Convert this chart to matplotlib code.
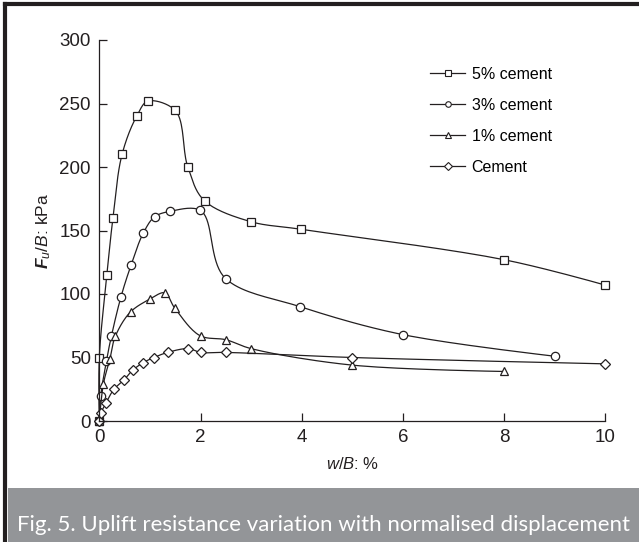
"""
Uplift resistance vs normalised displacement
"""

import numpy as np
import matplotlib
matplotlib.use("Agg")
import matplotlib.pyplot as plt
from matplotlib.patches import Rectangle
from matplotlib.lines import Line2D

plt.rcParams["font.family"] = ["Liberation Sans", "DejaVu Sans"]
plt.rcParams["mathtext.fontset"] = "custom"
plt.rcParams["mathtext.rm"] = "Liberation Sans"
plt.rcParams["mathtext.it"] = "Liberation Sans:italic"
plt.rcParams["mathtext.bf"] = "Liberation Sans:bold"
plt.rcParams["mathtext.bfit"] = "Liberation Sans:italic:bold"

# w/B (%) and Fu/B (kPa)
x_5 = [0, 0, 0.15, 0.27, 0.45, 0.74, 0.97, 1.49, 1.75, 2.09, 2.99, 3.98, 8.0, 10.0]
y_5 = [0, 50, 115, 160, 210, 240, 252, 245, 200, 173, 157, 151, 127, 107]

x_3 = [0, 0.03, 0.14, 0.24, 0.43, 0.63, 0.87, 1.10, 1.39, 1.99, 2.5, 3.97, 6.0, 9.0]
y_3 = [0, 20, 47, 67, 98, 123, 148, 161, 165, 166, 112, 90, 68, 51]

x_1 = [0, 0.08, 0.21, 0.32, 0.62, 1.0, 1.29, 1.49, 2.0, 2.5, 3.0, 5.0, 8.0]
y_1 = [0, 29, 49, 67, 86, 96, 101, 89, 67, 64, 57, 44, 39]

x_0 = [0, 0.03, 0.13, 0.29, 0.48, 0.66, 0.87, 1.08, 1.35, 1.76, 2.0, 2.5, 5.0, 10.0]
y_0 = [0, 6, 14, 25, 32, 40, 46, 50, 54, 57, 54, 54, 50, 45]

labels = ["5% cement", "3% cement", "1% cement", "Cement"]
markers = ["s", "o", "^", "D"]


def smooth(x, y, n=20):
    # centripetal Catmull-Rom through the points, in scaled units
    p = np.column_stack([np.asarray(x) / 10.0, np.asarray(y) / 300.0])
    p = np.vstack([p[0], p, p[-1]])
    out = []
    for i in range(1, len(p) - 2):
        p0, p1, p2, p3 = p[i - 1], p[i], p[i + 1], p[i + 2]

        def tj(ti, a, b):
            return ti + max(np.hypot(*(b - a)), 1e-6) ** 0.5

        t0 = 0.0
        t1 = tj(t0, p0, p1)
        t2 = tj(t1, p1, p2)
        t3 = tj(t2, p2, p3)
        t = np.linspace(t1, t2, n)[:, None]
        a1 = (t1 - t) / (t1 - t0) * p0 + (t - t0) / (t1 - t0) * p1
        a2 = (t2 - t) / (t2 - t1) * p1 + (t - t1) / (t2 - t1) * p2
        a3 = (t3 - t) / (t3 - t2) * p2 + (t - t2) / (t3 - t2) * p3
        b1 = (t2 - t) / (t2 - t0) * a1 + (t - t0) / (t2 - t0) * a2
        b2 = (t3 - t) / (t3 - t1) * a2 + (t - t1) / (t3 - t1) * a3
        c = (t2 - t) / (t2 - t1) * b1 + (t - t1) / (t2 - t1) * b2
        out.append(c)
    out = np.vstack(out)
    return out[:, 0] * 10.0, out[:, 1] * 300.0


def main():
    fig = plt.figure(figsize=(6.39, 5.42), dpi=100)

    # page frame and caption band
    fig.add_artist(Line2D([0.008, 0.008], [0, 0.992], transform=fig.transFigure,
                          color="#231f20", lw=3))
    fig.add_artist(Line2D([0.008, 1.0], [0.992, 0.992], transform=fig.transFigure,
                          color="#231f20", lw=3))
    fig.add_artist(Rectangle((0.0125, 0), 1, 54 / 542, transform=fig.transFigure,
                             color="#939598", lw=0))
    fig.text(0.507, 17 / 542, "Fig. 5. Uplift resistance variation with normalised displacement",
             family="Lato", color="white", fontsize=16, ha="center", va="center")

    ax = fig.add_axes([99.3 / 639, 121 / 542, 506 / 639, 381 / 542])
    for xs, ys, m, lab in zip([x_5, x_3, x_1, x_0], [y_5, y_3, y_1, y_0], markers, labels):
        sx, sy = smooth(xs, ys)
        ax.plot(sx, sy, color="#231f20", lw=0.9)
        ax.plot(xs, ys, ls="none", marker=m, ms=6 if m != "D" else 5, mfc="white",
                mec="#231f20", mew=0.9)

    ax.set_xlim(0, 10)
    ax.set_ylim(0, 300)
    ax.set_xticks([0, 2, 4, 6, 8, 10])
    ax.set_yticks([0, 50, 100, 150, 200, 250, 300])
    for s in ["top", "right"]:
        ax.spines[s].set_visible(False)
    for s in ["left", "bottom"]:
        ax.spines[s].set_linewidth(0.9)
        ax.spines[s].set_color("#231f20")
    ax.tick_params(direction="in", length=6, width=0.9, labelsize=13.5,
                   colors="#231f20")
    ax.tick_params(axis="y", pad=6)
    ax.tick_params(axis="x", pad=6)
    for ln in ax.lines:
        ln.set_clip_on(False)

    ax.set_xlabel(r"$\mathit{w}$/$\mathit{B}$: %", fontsize=12, labelpad=7, color="#231f20")
    ax.set_ylabel(r"$\mathbfit{F}_{\mathit{u}}$/$\mathit{B}$: kPa", fontsize=12.5,
                  labelpad=5, color="#231f20")

    handles = [Line2D([], [], color="#231f20", lw=0.9, marker=m, ms=4, mfc="white",
                      mec="#231f20", mew=0.8) for m in markers]
    ax.legend(handles, labels, loc="upper left", bbox_to_anchor=(430 / 639, 1 - 67 / 542),
              bbox_transform=fig.transFigure, frameon=False, fontsize=11.5,
              handlelength=2.2, handletextpad=0.4, labelspacing=1.0,
              borderpad=0, borderaxespad=0)

    fig.savefig("out.png", dpi=100, facecolor="white")


if __name__ == "__main__":
    main()
